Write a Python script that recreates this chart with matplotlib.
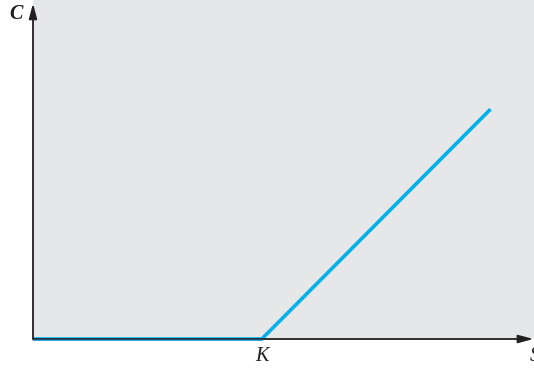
# Call option payoff at expiry: C = max(S - K, 0)

import numpy as np
import matplotlib
matplotlib.use('Agg')
import matplotlib.pyplot as plt

K = 100.0                                   # Strike price
S_pts = [0.0, K, 200.0]                     # Stock price breakpoints
C_pts = [max(s - K, 0.0) for s in S_pts]    # Payoff at those prices

x_max = 219.0
y_max = 147.5

fig = plt.figure(figsize=(5.34, 3.68), dpi=100)
ax = fig.add_axes([33/534, 29/368, 501/534, 339/368])
ax.set_facecolor('#e6e7e9')
ax.set_xlim(0, x_max)
ax.set_ylim(0, y_max)

for side in ['top', 'right', 'left', 'bottom']:
    ax.spines[side].set_visible(False)
ax.set_xticks([])
ax.set_yticks([])

# Payoff line
ax.plot(S_pts, C_pts, color='#00b0e8', lw=2.6, solid_capstyle='butt', zorder=3, clip_on=False)

# Axes with arrow heads
arr = dict(arrowstyle='-|>,head_length=0.75,head_width=0.2', color='#231f20', lw=1.3,
           mutation_scale=12, shrinkA=0, shrinkB=0)
ax.annotate('', xy=(0, y_max*0.99), xytext=(0, 0), xycoords='data', arrowprops=arr, annotation_clip=False)
ax.annotate('', xy=(x_max*0.999, 0), xytext=(0, 0), xycoords='data', arrowprops=arr, annotation_clip=False)
ax.plot([0, K], [0, 0], color='#1f4e79', lw=1.0, zorder=4, clip_on=False)

# Axis labels
fnt = dict(family='Liberation Serif', style='italic', fontsize=14.5, color='#231f20')
ax.text(-0.033, 0.96, 'C', transform=ax.transAxes, ha='center', va='center', fontweight='bold', **fnt)
ax.text(K, -0.052*y_max, 'K', ha='center', va='center', **fnt)
ax.text(x_max*0.991, -0.052*y_max, 'S', ha='left', va='center', **fnt)

fig.savefig('out.png', dpi=100)
